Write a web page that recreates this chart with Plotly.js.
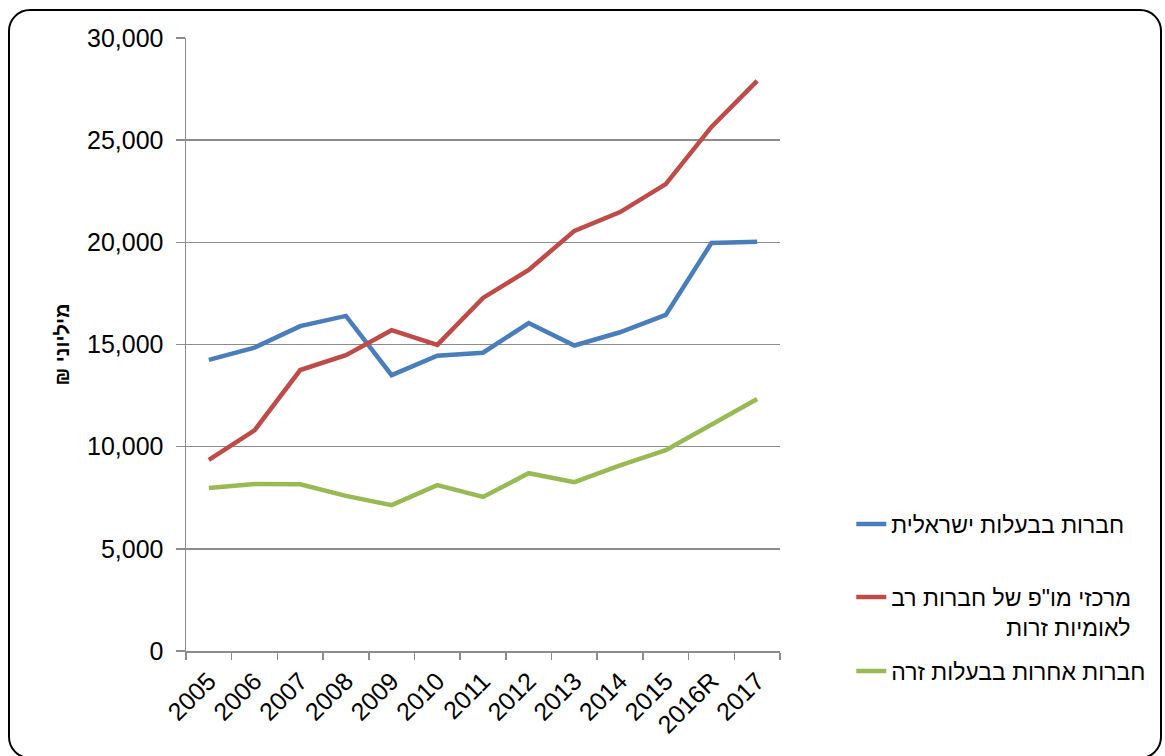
<!DOCTYPE html>
<html>
<head>
<meta charset="utf-8">
<script src="https://cdn.plot.ly/plotly-3.0.1.min.js"></script>
<style>
html,body{margin:0;padding:0;background:#fff;}
#wrap{position:relative;width:1165px;height:756px;overflow:hidden;}
#chart{position:absolute;left:0;top:0;width:1165px;height:756px;}
#frame{position:absolute;left:8px;top:9px;width:1150px;height:746px;border:2.5px solid #000;border-radius:22px;pointer-events:none;}
</style>
</head>
<body>
<div id="wrap"><div id="chart"></div><div id="frame"></div></div>
<script>
const years = ['2005','2006','2007','2008','2009','2010','2011','2012','2013','2014','2015','2016R','2017'];
const israeli = [14250,14850,15900,16400,13500,14450,14600,16050,14950,15600,16450,19970,20030];
const rndCenters = [9350,10800,13750,14480,15700,14980,17280,18650,20560,21480,22850,25650,27900];
const otherForeign = [7980,8170,8160,7590,7140,8120,7540,8700,8260,9080,9830,11080,12330];

const names = [
  'חברות בבעלות ישראלית',
  'מרכזי מו"פ של חברות רב<br>' + '\u00A0'.repeat(18) + 'לאומיות זרות',
  'חברות אחרות בבעלות זרה'
];
const colors = ['#4a7ebb','#be4b48','#98b954'];
const series = [israeli, rndCenters, otherForeign];
const legendIds = ['legend','legend2','legend3'];

const traces = series.map((s,i)=>({
  x: years, y: s, type:'scatter', mode:'lines', name: names[i],
  line:{color:colors[i], width:4.5},
  legend: legendIds[i]
}));

const font = {family:'Arial, "Liberation Sans", sans-serif', color:'#000'};
function leg(y){
  return {x:1.12, xanchor:'left', y:y, yanchor:'middle', bgcolor:'rgba(0,0,0,0)',
    font:Object.assign({}, font, {size:23}), valign:'top', itemwidth:30};
}
const layout = {
  width:1165, height:756,
  margin:{l:186, r:385, t:38, b:105},
  paper_bgcolor:'#fff', plot_bgcolor:'#fff',
  font: font,
  xaxis:{
    type:'category', tickangle:-45, tickson:'boundaries',
    ticks:'outside', ticklen:7, tickcolor:'#8c8c8c', tickwidth:1.5,
    showline:true, linecolor:'#8c8c8c', linewidth:1.5, ticklabelstandoff:4,
    showgrid:false, tickfont:{size:25, family:font.family, color:'#000'},
    range:[-0.5,12.5], fixedrange:true
  },
  yaxis:{
    range:[0,30000], dtick:5000, tickformat:',d',
    ticks:'outside', ticklen:9, tickcolor:'#8c8c8c', tickwidth:1.5,
    showline:true, linecolor:'#8c8c8c', linewidth:1.5, ticklabelstandoff:7,
    showgrid:true, gridcolor:'#8c8c8c', gridwidth:1.5, zeroline:false,
    tickfont:{size:25, family:font.family, color:'#000'},
    title:{text:'<b>₪ מיליוני</b>', font:{size:20, family:font.family, color:'#000'}, standoff:12}
  },
  showlegend:true,
  legend: leg((651-524)/613),
  legend2: leg((651-612)/613),
  legend3: leg((651-671)/613)
};
Plotly.newPlot('chart', traces, layout, {staticPlot:true});
</script>
</body>
</html>
